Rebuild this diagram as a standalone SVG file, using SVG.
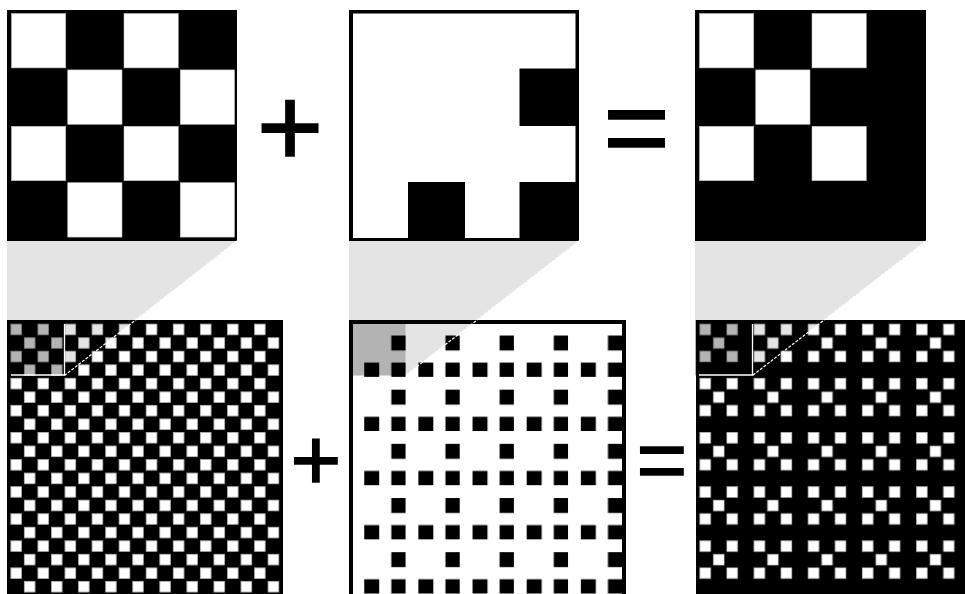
<svg xmlns="http://www.w3.org/2000/svg" width="965" height="594" viewBox="0 0 965 594">
  <style>
    .blk { fill: #000; }
    .wht { fill: #fff; }
    .tw { fill: #fff; stroke: #bbb; stroke-width: 0.6; }
    .ov { fill: #000; fill-opacity: 0.105; }
    .ovd { fill: #000; fill-opacity: 0.21; }
    .edge { stroke: #fff; stroke-width: 1.3; fill: none; }
    .diag { stroke: #fff; stroke-width: 1.2; fill: none; stroke-dasharray: 3 1.5; }
    .op { font-family: "Liberation Sans", Arial, sans-serif; fill: #000; stroke: #000; stroke-width: 1.6; text-anchor: middle; }
  </style>
  <defs>
    <pattern id="pChecker" patternUnits="userSpaceOnUse" x="9.4" y="322.7" width="27.08" height="27.08">
      <rect class="tw" x="1.4" y="1.4" width="10.74" height="10.74"/>
      <rect class="tw" x="14.94" y="14.94" width="10.74" height="10.74"/>
    </pattern>
    <pattern id="pMask" patternUnits="userSpaceOnUse" x="351.4" y="322.7" width="54.16" height="54.16">
      <rect class="blk" x="39.92" y="12.84" width="14.94" height="14.94"/>
      <rect class="blk" x="12.84" y="39.92" width="14.94" height="14.94"/>
      <rect class="blk" x="39.92" y="39.92" width="14.94" height="14.94"/>
    </pattern>
    <pattern id="pResult" patternUnits="userSpaceOnUse" x="698.4" y="322.7" width="54.16" height="54.16">
      <rect class="tw" x="1.4" y="1.4" width="10.74" height="10.74"/>
      <rect class="tw" x="28.48" y="1.4" width="10.74" height="10.74"/>
      <rect class="tw" x="14.94" y="14.94" width="10.74" height="10.74"/>
      <rect class="tw" x="1.4" y="28.48" width="10.74" height="10.74"/>
      <rect class="tw" x="28.48" y="28.48" width="10.74" height="10.74"/>
    </pattern>
  </defs>

  <rect x="0" y="0" width="965" height="594" fill="#fff"/>

  <!-- top row -->
  <g id="top-checker">
    <rect class="blk" x="7" y="10" width="230" height="231"/>
    <rect class="tw" x="11.5" y="13.5" width="54.25" height="54.4"/>
    <rect class="tw" x="124" y="13.5" width="54.25" height="54.4"/>
    <rect class="tw" x="67.75" y="69.9" width="54.25" height="54.4"/>
    <rect class="tw" x="180.25" y="69.9" width="54.25" height="54.4"/>
    <rect class="tw" x="11.5" y="126.3" width="54.25" height="54.4"/>
    <rect class="tw" x="124" y="126.3" width="54.25" height="54.4"/>
    <rect class="tw" x="67.75" y="182.7" width="54.25" height="54.4"/>
    <rect class="tw" x="180.25" y="182.7" width="54.25" height="54.4"/>
  </g>

  <g id="top-mask">
    <rect class="blk" x="349" y="10" width="230" height="231"/>
    <rect class="wht" x="353" y="13.5" width="222.5" height="224.5"/>
    <rect class="blk" x="519.5" y="68.5" width="58" height="57.5"/>
    <rect class="blk" x="408" y="182" width="57" height="57"/>
    <rect class="blk" x="519.5" y="182" width="58" height="57"/>
  </g>

  <g id="top-result">
    <rect class="blk" x="695" y="10" width="231" height="231"/>
    <rect class="tw" x="699.5" y="13.5" width="54.25" height="54.4"/>
    <rect class="tw" x="812" y="13.5" width="54.25" height="54.4"/>
    <rect class="tw" x="755.75" y="69.9" width="54.25" height="54.4"/>
    <rect class="tw" x="699.5" y="126.3" width="54.25" height="54.4"/>
    <rect class="tw" x="812" y="126.3" width="54.25" height="54.4"/>
  </g>

  <!-- bottom row -->
  <g id="bottom-checker">
    <rect class="blk" x="7" y="320" width="276" height="280"/>
    <rect x="9.4" y="322.7" width="270.8" height="275" fill="url(#pChecker)"/>
  </g>

  <g id="bottom-mask">
    <rect class="blk" x="349" y="320" width="277" height="280"/>
    <rect class="wht" x="353" y="324" width="269" height="276"/>
    <rect x="351.4" y="322.7" width="270.8" height="275" fill="url(#pMask)"/>
  </g>

  <g id="bottom-result">
    <rect class="blk" x="696" y="320" width="280" height="280"/>
    <rect x="698.4" y="322.7" width="270.8" height="275" fill="url(#pResult)"/>
  </g>

  <!-- zoom connectors -->
  <g id="connectors">
    <g id="zoom-checker">
      <polygon class="ov" points="7,241 237,241 64.5,375.5 7,375.5"/>
      <rect class="ovd" x="7" y="320" width="57.5" height="55.5"/>
      <polyline class="edge" points="11,375 64.5,375 64.5,324"/>
      <line class="diag" x1="237" y1="241" x2="64.5" y2="375.5"/>
    </g>
    <g id="zoom-mask">
      <polygon class="ov" points="349,241 579,241 405.5,375.5 349,375.5"/>
      <rect class="ovd" x="349" y="320" width="56.5" height="55.5"/>
      <line class="diag" x1="579" y1="241" x2="405.5" y2="375.5"/>
    </g>
    <g id="zoom-result">
      <polygon class="ov" points="695,241 926,241 752.5,375.5 695,375.5"/>
      <rect class="ovd" x="695" y="320" width="57.5" height="55.5"/>
      <polyline class="edge" points="699,375 752.5,375 752.5,324"/>
      <line class="diag" x1="926" y1="241" x2="752.5" y2="375.5"/>
    </g>
  </g>

  <!-- operators -->
  <g id="operators">
    <text class="op" x="290" y="165.5" font-size="114">+</text>
    <text class="op" x="636.5" y="165.5" font-size="114">=</text>
    <text class="op" x="316" y="490" font-size="87">+</text>
    <text class="op" x="662" y="490" font-size="87">=</text>
  </g>
</svg>
